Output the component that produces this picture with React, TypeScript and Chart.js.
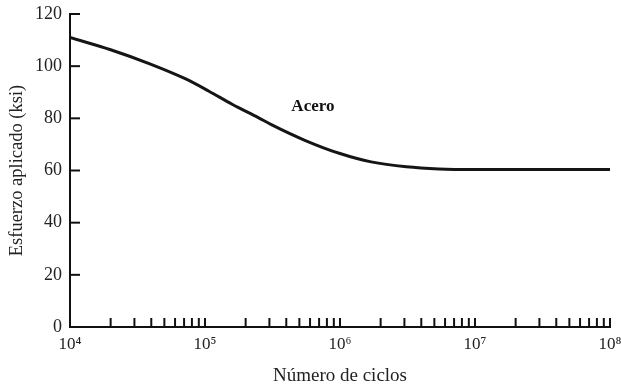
import React, { useEffect, useRef } from "react";
import { Chart, registerables } from "chart.js";

Chart.register(...registerables);

const cycles = [1e4, 2e4, 3.9e4, 7.2e4, 1.07e5, 1.6e5, 2.5e5, 3.1e5, 5.6e5, 1e6, 1.7e6, 3.1e6, 5.4e6, 1e7, 1e8];
const stress = [111, 106.3, 100.9, 95.1, 90.4, 85.3, 80.2, 77.6, 71.4, 66.5, 63.3, 61.4, 60.6, 60.4, 60.4];
const yTicks = [0, 20, 40, 60, 80, 100, 120];
const xMajor = [1e4, 1e5, 1e6, 1e7, 1e8];
const supers: Record<string, string> = { "4": "⁴", "5": "⁵", "6": "⁶", "7": "⁷", "8": "⁸" };
const curveLabel = { text: "Acero", x: 6.3e5, y: 84.5 };
const xTitle = "Número de ciclos";
const yTitle = "Esfuerzo aplicado (ksi)";

const FONT = "'Liberation Serif', 'DejaVu Serif', serif";

export default function App() {
  const ref = useRef<HTMLCanvasElement | null>(null);
  useEffect(() => {
    if (!ref.current) return;
    const tickPlugin = {
      id: "inTicks",
      afterDraw(chart: any) {
        const ctx = chart.ctx;
        const xs = chart.scales.x;
        const ys = chart.scales.y;
        const { left, bottom } = chart.chartArea;
        ctx.save();
        ctx.strokeStyle = "#111";
        ctx.lineWidth = 2;
        yTicks.forEach((v) => {
          const py = ys.getPixelForValue(v);
          ctx.beginPath();
          ctx.moveTo(left, py);
          ctx.lineTo(left + 10, py);
          ctx.stroke();
        });
        for (let e = 4; e < 8; e++) {
          for (let m = 1; m <= 10; m++) {
            const v = m * Math.pow(10, e);
            const px = xs.getPixelForValue(v);
            ctx.beginPath();
            ctx.moveTo(px, bottom);
            ctx.lineTo(px, bottom - 9);
            ctx.stroke();
          }
        }
        ctx.fillStyle = "#111";
        ctx.font = "bold 17px " + FONT;
        ctx.textAlign = "center";
        ctx.textBaseline = "middle";
        ctx.fillText(curveLabel.text, xs.getPixelForValue(curveLabel.x), ys.getPixelForValue(curveLabel.y));
        ctx.restore();
      },
    };
    const chart = new Chart(ref.current, {
      type: "line",
      data: {
        datasets: [
          {
            data: cycles.map((c, i) => ({ x: c, y: stress[i] })),
            borderColor: "#151515",
            borderWidth: 3,
            pointRadius: 0,
            cubicInterpolationMode: "monotone",
            fill: false,
          },
        ],
      },
      options: {
        animation: false,
        responsive: false,
        maintainAspectRatio: false,
        layout: { padding: { top: 14, right: 11, left: 0, bottom: 0 } },
        plugins: { legend: { display: false }, tooltip: { enabled: false } },
        scales: {
          x: {
            type: "logarithmic",
            min: 1e4,
            max: 1e8,
            grid: { display: false, drawTicks: false },
            border: { display: true, color: "#111", width: 2 },
            afterBuildTicks: (s: any) => {
              s.ticks = xMajor.map((v) => ({ value: v }));
            },
            afterFit: (s: any) => {
              s.height = 60;
              s.paddingLeft = 0;
              s.paddingRight = 0;
            },
            ticks: {
              autoSkip: false,
              maxRotation: 0,
              padding: 7,
              color: "#222",
              font: { family: FONT, size: 17 },
              callback: (v: any) => {
                const e = Math.round(Math.log10(Number(v)));
                return "10" + (supers[String(e)] || "");
              },
            },
            title: {
              display: true,
              text: xTitle,
              color: "#222",
              font: { family: FONT, size: 19 },
              padding: { top: 4, bottom: 0 },
            },
          },
          y: {
            min: 0,
            max: 120,
            grid: { display: false, drawTicks: false },
            border: { display: true, color: "#111", width: 2 },
            afterBuildTicks: (s: any) => {
              s.ticks = yTicks.map((v) => ({ value: v }));
            },
            afterFit: (s: any) => {
              s.width = 70;
              s.paddingTop = 0;
              s.paddingBottom = 0;
            },
            ticks: {
              padding: 8,
              color: "#222",
              font: { family: FONT, size: 18 },
            },
            title: {
              display: true,
              text: yTitle,
              color: "#222",
              font: { family: FONT, size: 18.5 },
              padding: { top: 6, bottom: 4 },
            },
          },
        },
      },
      plugins: [tickPlugin],
    } as any);
    return () => chart.destroy();
  }, []);
  return (
    <div style={{ position: "absolute", left: 0, top: 0, width: 621, height: 387, background: "#fff" }}>
      <canvas ref={ref} width={621} height={387} />
    </div>
  );
}
